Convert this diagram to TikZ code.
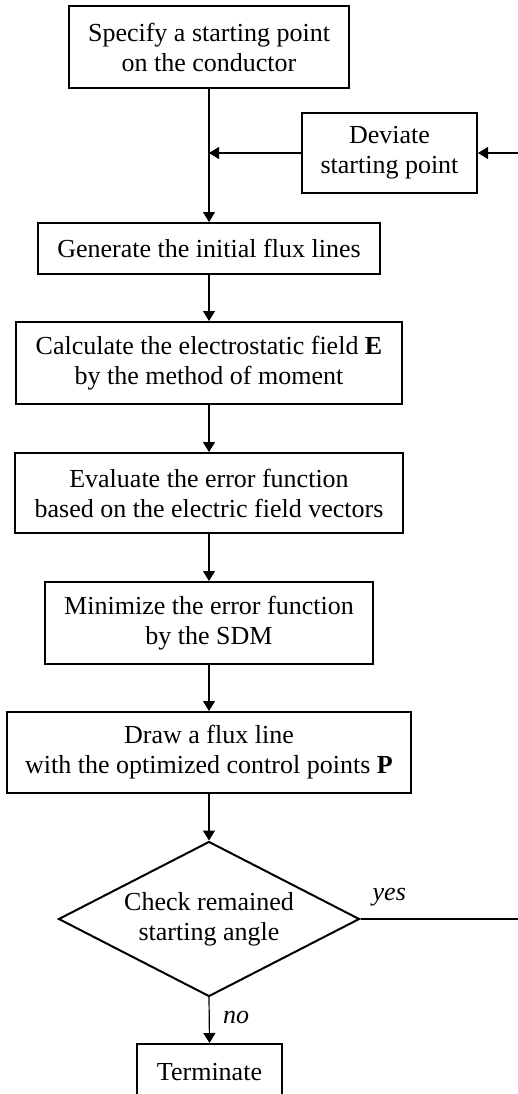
\documentclass[tikz,border=0pt]{standalone}
\usepackage{fontspec}
\setmainfont{Liberation Serif}
\usetikzlibrary{shapes.geometric,arrows.meta}
\tikzset{
  stepbox/.style={draw,line width=2pt,align=center,inner sep=0pt,font=\fontsize{26}{30}\selectfont},
  flow/.style={line width=1.2pt,-{Triangle[length=10pt,width=12pt]}},
  lbl/.style={font=\fontsize{26}{30}\selectfont\itshape,inner sep=0pt}
}
\begin{document}
\begin{tikzpicture}[x=1pt,y=-1pt]
  \clip (0,0) rectangle (518,1094);
  \node[stepbox,minimum width=280pt,minimum height=82pt] (spec) at (209,47) {Specify a starting point\\on the conductor};
  \node[stepbox,minimum width=175pt,minimum height=80pt] (dev) at (389.5,153) {Deviate\\starting point};
  \node[stepbox,minimum width=342pt,minimum height=51pt] (gen) at (209,248.5) {Generate the initial flux lines};
  \node[stepbox,minimum width=386pt,minimum height=82pt] (calc) at (209,363) {Calculate the electrostatic field \textbf{E}\\by the method of moment};
  \node[stepbox,minimum width=388pt,minimum height=80pt] (eval) at (209,493) {Evaluate the error function\\based on the electric field vectors};
  \node[stepbox,minimum width=328pt,minimum height=82pt] (mini) at (209,623) {Minimize the error function\\by the SDM};
  \node[stepbox,minimum width=404pt,minimum height=81pt] (drawp) at (209,752.5) {Draw a flux line\\with the optimized control points \textbf{P}};
  \node[stepbox,diamond,shape aspect=2,minimum width=301pt,minimum height=155pt] (check) at (209,919) {Check remained\\starting angle};
  \node[stepbox,minimum width=145pt,minimum height=56pt] (term) at (209.5,1072) {Terminate};
  % loop back from the right edge
  \coordinate (loopin) at (518,153);
  \coordinate (loopout) at (518,919);
  \foreach \a/\b in {spec/gen,gen/calc,calc/eval,eval/mini,mini/drawp,drawp/check}
    \draw[flow] (\a.south) -- (\b.north);
  \draw[flow] ([yshift=1pt]check.south) -- (term.north);
  \draw[flow] (dev.west) -- (dev.west -| spec.south);
  \draw[flow] (loopin) -- (dev.east);
  \draw[line width=1.2pt] (check.east) -- (loopout);
  \node[lbl,anchor=south west] (yes) at ([xshift=12pt,yshift=13pt]check.east) {yes};
  \node[lbl,anchor=west] (no) at (223,1017) {no};
\end{tikzpicture}
\end{document}
